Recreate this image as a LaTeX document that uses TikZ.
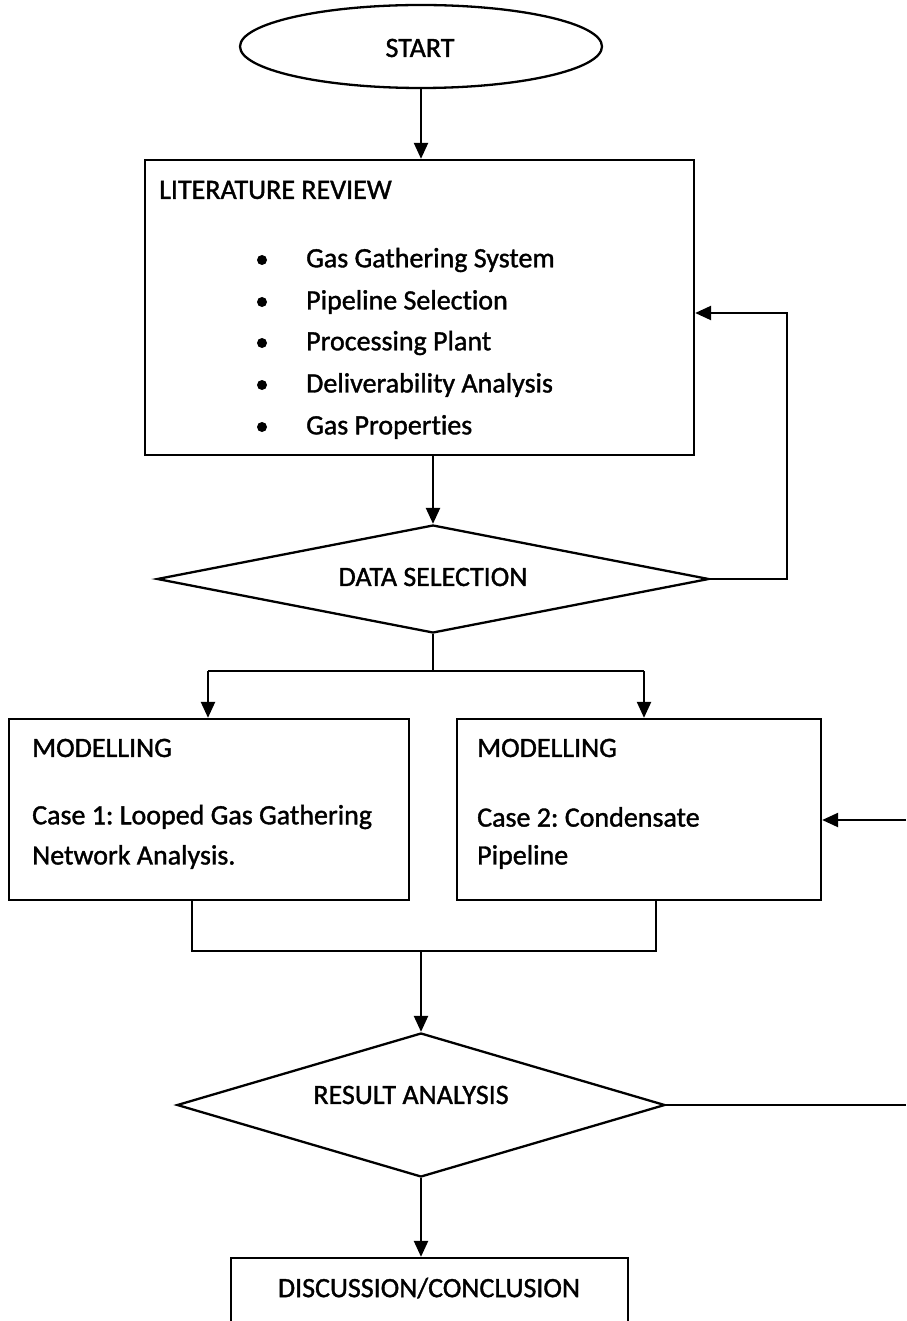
\documentclass[tikz,border=0pt]{standalone}
\usepackage{fontspec}
\setmainfont{Carlito}[Ligatures=NoCommon, FakeBold=1.3]
\usetikzlibrary{arrows.meta,shapes.geometric,calc}

\tikzset{
  flow/.style={line width=2.3pt, draw=black},
  arr/.style={flow, -{Triangle[length=16pt,width=14pt]}},
  boxed/.style={flow, rectangle, inner sep=0pt},
  decision/.style={flow, diamond, inner sep=0pt, aspect=5},
  txt/.style={inner sep=0pt, anchor=west, font=\fontsize{28}{32}\selectfont},
  ctxt/.style={inner sep=0pt, font=\fontsize{28}{32}\selectfont},
  bullet/.style={circle, fill=black, inner sep=0pt, minimum size=10pt}
}

\begin{document}
\frenchspacing
\begin{tikzpicture}[x=1pt, y=-1pt]
\useasboundingbox (0,0) rectangle (906,1321);
\clip (0,0) rectangle (906,1321);

% start terminal
\node[flow, ellipse, minimum width=362pt, minimum height=83pt, inner sep=0pt] (start) at (421,46.5) {};
\node[ctxt] (starttxt) at (420,48) {START};

% literature review box and its items
\node[boxed, minimum width=549pt, minimum height=295pt] (lit) at (419.5,307.5) {};
\node[txt] (littitle) at (159,190) {LITERATURE REVIEW};
\foreach \i/\y/\t in {1/260/Gas Gathering System, 2/302/Pipeline Selection, 3/343/Processing Plant, 4/385/Deliverability Analysis, 5/427/Gas Properties}{
  \node[bullet] (dot\i) at (262,\y) {};
  \node[txt] (item\i) at (306,\y) {\t};
}

% data selection decision
\node[decision, minimum width=552pt, minimum height=108pt] (ds) at (433,579) {};
\node[ctxt] (dstxt) at (433,577) {DATA SELECTION};

% modelling boxes
\node[boxed, minimum width=400pt, minimum height=181pt] (c1) at (209,809.5) {};
\node[txt] (c1a) at (32,748) {MODELLING};
\node[txt] (c1b) at (32,817) {Case 1: Looped Gas Gathering};
\node[txt] (c1c) at (32,857) {Network Analysis.};

\node[boxed, minimum width=364pt, minimum height=181pt] (c2) at (639,809.5) {};
\node[txt] (c2a) at (477,748) {MODELLING};
\node[txt] (c2b) at (477,817) {Case 2: Condensate};
\node[txt] (c2c) at (477,857) {Pipeline};

% result analysis decision
\node[decision, minimum width=488pt, minimum height=144pt, aspect=3.4] (res) at (421,1105) {};
\node[ctxt] (restxt) at (411,1095) {RESULT ANALYSIS};

% discussion box (runs past the lower edge)
\node[boxed, minimum width=397pt, minimum height=120pt] (disc) at (429.5,1318) {};
\node[ctxt] (disctxt) at (429,1288) {DISCUSSION/CONCLUSION};

% helper points
\coordinate (split) at (433,671);
\coordinate (sl) at (208,671);
\coordinate (sr) at (644,671);
\coordinate (m1) at (192,951);
\coordinate (m2) at (656,951);
\coordinate (mid) at (421,951);
\coordinate (loop) at (787,313);
\coordinate (edgeR) at (906,1105);
\coordinate (edgeC) at (906,820);

% connectors
\draw[arr] (start.south) -- (start.south |- lit.north);
\draw[arr] (lit.south -| ds.north) -- (ds.north);
\draw[arr] (ds.east) -- (ds.east -| loop) -- (loop) -- (loop -| lit.east);
\draw[flow] (ds.south) -- (split);
\draw[flow] (sl) -- (sr);
\draw[arr] (sl) -- (sl |- c1.north);
\draw[arr] (sr) -- (sr |- c2.north);
\draw[flow] (m1 |- c1.south) -- (m1) -- (m2) -- (m2 |- c2.south);
\draw[arr] (mid) -- (res.north);
\draw[flow] (res.east) -- (edgeR);
\draw[arr] (edgeC) -- (edgeC -| c2.east);
\draw[arr] (res.south) -- (res.south |- disc.north);
\end{tikzpicture}
\end{document}
